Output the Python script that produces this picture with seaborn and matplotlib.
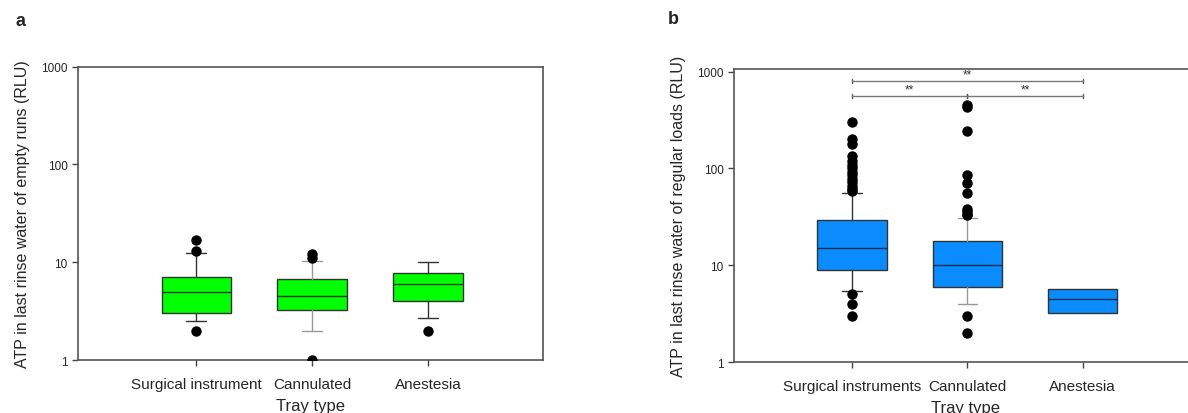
import numpy as np
import pandas as pd
import seaborn as sns
import matplotlib.pyplot as plt

# panel a: empty runs
trays_a = ["Surgical instrument", "Cannulated", "Anestesia"]
med_a = [5.0, 4.5, 6.0]
q1_a = [3.0, 3.25, 4.0]
q3_a = [7.0, 6.7, 7.7]
lo_a = [2.5, 2.0, 2.7]
hi_a = [12.4, 10.4, 10.0]
out_a = [[17, 13, 2], [12, 11, 1], [2]]

# panel b: regular loads
trays_b = ["Surgical instruments", "Cannulated", "Anestesia"]
med_b = [15.0, 10.0, 4.5]
q1_b = [9.0, 6.0, 3.25]
q3_b = [29.6, 17.9, 5.7]
lo_b = [5.4, 4.0, 3.25]
hi_b = [55.9, 31.0, 5.7]
out_b = [[304, 200, 180, 134, 120, 108, 100, 92, 85, 78, 72, 66, 62, 58, 5.0, 4.0, 3.0],
         [450, 430, 242, 86, 70, 56, 38, 36, 34, 33, 3.0, 2.0],
         []]

# significance brackets for panel b
sig_pairs = [(0, 2), (0, 1), (1, 2)]
sig_levels = [805, 560, 560]
sig_text = ["**", "**", "**"]

sns.set_style("ticks")
plt.rcParams['font.family'] = ['Liberation Sans', 'DejaVu Sans']

fig = plt.figure(figsize=(11.88, 4.14), dpi=100)
ax_a = fig.add_axes([0.0657, 0.128, 0.3913, 0.7085])
ax_b = fig.add_axes([0.618, 0.123, 0.3896, 0.708])

whisker_cols = ["#333333", "#999999", "#333333"]


def draw_panel(ax, trays, med, q1, q3, lo, hi, outs, color, ylim, ylabel, no_whisk=()):
    ax.set_yscale("log")
    stats = []
    for i in range(len(trays)):
        stats.append(dict(med=med[i], q1=q1[i], q3=q3[i], whislo=lo[i], whishi=hi[i],
                          fliers=[], label=trays[i]))
    bp = ax.bxp(stats, positions=range(len(trays)), widths=0.6, patch_artist=True,
                showfliers=False, capwidths=0.17,
                boxprops=dict(facecolor=color, edgecolor="#333333", linewidth=1),
                medianprops=dict(color="#1a3a1a" if color == "#00ff00" else "#0a3050", linewidth=1))
    for i in range(len(trays)):
        for k in (2 * i, 2 * i + 1):
            bp["whiskers"][k].set_color(whisker_cols[i])
            bp["caps"][k].set_color(whisker_cols[i])
            if i in no_whisk:
                bp["whiskers"][k].set_visible(False)
                bp["caps"][k].set_visible(False)
    fl = pd.DataFrame({"tray": [trays[i] for i in range(len(trays)) for _ in outs[i]],
                       "value": [v for o in outs for v in o]})
    sns.stripplot(data=fl, x="tray", y="value", order=trays, jitter=False,
                  color="black", size=7.5, linewidth=0, ax=ax, zorder=5)
    ax.set_xlim(-1.02, 2.99)
    ax.set_ylim(*ylim)
    ax.set_yticks([1, 10, 100, 1000])
    ax.set_yticklabels(["1", "10", "100", "1000"], fontsize=8.5)
    ax.minorticks_off()
    ax.set_xticks(range(len(trays)))
    ax.set_xticklabels(trays, fontsize=11)
    ax.set_xlabel("Tray type", fontsize=12, labelpad=5)
    ax.set_ylabel(ylabel, fontsize=11.5, labelpad=8)
    for s in ax.spines.values():
        s.set_visible(True)
        s.set_color("#555555")
        s.set_linewidth(1.2)
    ax.tick_params(axis="both", direction="out", length=4, width=1, color="#444444")
    ax.tick_params(axis="x", pad=8)


draw_panel(ax_a, trays_a, med_a, q1_a, q3_a, lo_a, hi_a, out_a, "#00ff00", (1, 1000),
           "ATP in last rinse water of empty runs (RLU)")
draw_panel(ax_b, trays_b, med_b, q1_b, q3_b, lo_b, hi_b, out_b, "#0a8cff", (1, 1066),
           "ATP in last rinse water of regular loads (RLU)", no_whisk=(2,))

for (x0, x1), y, t in zip(sig_pairs, sig_levels, sig_text):
    ax_b.plot([x0, x1], [y, y], color="#777777", lw=1, zorder=4)
    ax_b.plot([x0, x0], [y * 0.95, y * 1.05], color="#555555", lw=1)
    ax_b.plot([x1, x1], [y * 0.95, y * 1.05], color="#555555", lw=1)
    ax_b.text((x0 + x1) / 2, y * 1.02, t, ha="center", va="bottom", fontsize=8.5, color="#333333")

fig.text(20 / 1188, 1 - 22 / 414, "a", fontsize=13, fontweight="bold", ha="center", va="center")
fig.text(673 / 1188, 1 - 19 / 414, "b", fontsize=13, fontweight="bold", ha="center", va="center")

fig.savefig("out.png", dpi=100)
